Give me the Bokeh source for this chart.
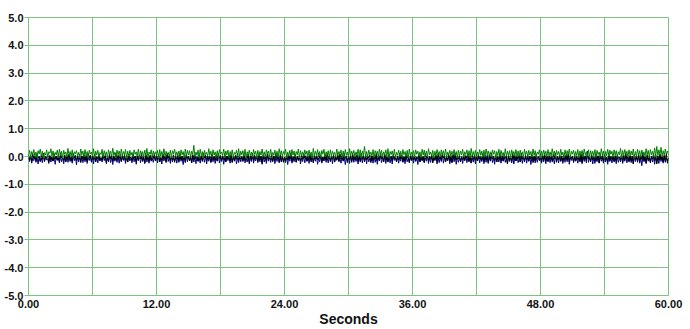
import numpy as np
from bokeh.plotting import figure
from bokeh.models import FixedTicker, NumeralTickFormatter, Range1d
from bokeh.embed import file_html
from bokeh.resources import INLINE

# time span (s) of the record
t_start, t_end = 0.0, 60.0

# series values in hundredths of a unit (0.1 s step)
green_vals = [
 4,22,-3,18,7,25,0,16,-5,21,
 9,27,2,19,-6,14,5,24,-2,17,
 11,28,1,20,-4,15,6,23,-1,26,
 3,19,-7,22,8,16,-2,29,4,18,
 0,24,-5,17,10,21,2,15,-3,27,
 6,20,-1,25,3,18,-6,23,9,16,
 1,28,-4,19,5,22,0,14,7,26,
 -2,21,4,17,-5,24,8,19,1,30,
 3,16,-3,23,6,20,-1,27,2,18,
 5,25,-7,19,0,22,4,15,-2,24,
 8,17,1,26,-4,21,6,18,-1,23,
 2,29,-3,16,7,24,0,20,5,17,
 4,22,-6,25,1,18,3,28,-2,19,
 7,15,0,23,-5,21,9,26,2,17,
 3,20,-2,24,6,18,-4,27,1,22,
 5,21,-1,19,8,40,0,16,4,23,
 -3,26,2,18,-6,22,7,15,1,28,
 4,19,-2,24,5,17,0,21,-4,25,
 9,16,3,27,-1,20,6,23,-5,18,
 2,24,-3,15,8,22,1,28,-2,19,
 6,21,0,26,-6,17,4,23,3,16,
 -1,25,7,19,-4,22,2,18,5,27,
 0,17,-2,24,9,20,-5,26,3,15,
 4,23,1,19,-3,28,6,21,-1,18,
 8,26,-4,16,2,22,0,25,5,20,
 -2,18,6,27,-5,21,3,17,1,24,
 7,20,-1,23,4,16,-6,29,2,19,
 3,25,0,18,-3,22,8,26,-2,17,
 5,21,-4,24,1,19,6,15,-1,27,
 2,18,9,23,-5,20,0,25,4,16,
 -3,28,3,19,7,22,-2,17,5,26,
 1,24,-6,20,4,36,0,18,-1,23,
 6,16,2,25,-4,21,8,19,-2,27,
 3,22,-1,17,5,24,0,28,-5,18,
 7,20,1,26,-3,15,4,23,2,19,
 -2,25,6,18,0,22,-6,27,3,16,
 4,21,-1,24,8,19,1,17,-4,26,
 5,23,0,20,-2,28,6,16,3,22,
 -5,19,2,25,7,18,-1,24,4,21,
 1,27,-3,16,5,22,0,19,8,25,
 3,18,-4,23,2,20,6,26,-1,17,
 7,24,0,21,-5,29,3,18,1,22,
 -2,16,5,25,4,19,-3,23,0,27,
 6,20,2,17,-1,24,8,21,-4,18,
 3,26,0,22,5,15,-2,28,1,19,
 4,21,-6,24,7,18,2,25,-1,20,
 0,23,3,17,-3,26,6,19,1,22,
 5,18,-2,27,4,21,0,16,8,24,
 -4,20,2,23,6,19,-1,25,3,17,
 1,28,5,20,-3,22,7,18,0,26,
 4,16,-5,24,2,21,6,27,-2,19,
 8,23,0,18,3,25,-4,20,5,22,
 -1,27,6,17,1,24,-3,21,4,19,
 2,25,-2,22,7,16,0,28,5,20,
 -6,18,3,26,1,23,8,19,-2,24,
 4,21,0,17,6,29,-3,22,2,25,
 7,19,-1,24,3,20,5,27,-4,18,
 1,26,4,21,-2,23,8,17,0,28,
 5,22,-3,25,6,19,2,31,-1,36,
 3,24,7,33,0,21,4,27,9,20,
 6]

blue_vals = [
 -4,-18,2,-24,-7,-15,0,-21,-3,-27,
 1,-16,-6,-22,3,-19,-2,-13,-8,-25,
 0,-20,-5,-17,4,-28,-1,-14,-6,-23,
 2,-19,-4,-26,-1,-16,5,-21,-3,-18,
 -7,-24,1,-15,-2,-30,3,-20,-5,-17,
 0,-22,-3,-19,4,-25,-6,-14,1,-21,
 -2,-27,2,-18,-4,-23,0,-16,-7,-20,
 3,-15,-1,-26,-5,-19,2,-22,-3,-29,
 1,-17,-6,-21,0,-24,4,-18,-2,-14,
 -4,-25,3,-20,-1,-16,-7,-23,2,-19,
 0,-28,-3,-15,5,-22,-2,-18,-5,-26,
 2,-20,-4,-24,1,-17,-6,-21,0,-14,
 -1,-23,3,-19,-5,-27,2,-16,-3,-22,
 4,-18,-2,-25,0,-20,-6,-15,1,-24,
 -3,-21,2,-17,-4,-29,0,-22,5,-19,
 -1,-16,-5,-23,3,-20,-2,-26,0,-18,
 -6,-24,1,-14,-3,-21,4,-27,-1,-17,
 2,-22,-4,-19,0,-25,-7,-16,3,-23,
 -2,-18,1,-28,-5,-20,2,-15,-1,-24,
 5,-21,-3,-17,0,-26,-4,-22,1,-19,
 -2,-15,3,-23,-6,-20,0,-27,-1,-18,
 4,-24,-3,-16,1,-22,-5,-19,2,-28,
 -1,-20,-4,-25,3,-17,0,-21,-6,-14,
 2,-26,-2,-18,5,-23,-3,-20,0,-16,
 -5,-22,1,-29,-1,-17,4,-24,-4,-19,
 0,-21,-2,-15,3,-27,-6,-18,1,-23,
 -3,-16,2,-25,-1,-20,5,-22,-4,-17,
 1,-28,-5,-19,0,-24,-2,-15,3,-21,
 -4,-23,2,-18,-1,-26,4,-20,-3,-14,
 0,-19,-6,-24,2,-17,-2,-29,1,-22,
 -1,-25,3,-16,-4,-21,0,-18,-5,-27,
 4,-20,-2,-23,1,-15,-3,-26,2,-19,
 -6,-17,0,-24,3,-21,-1,-28,-4,-16,
 2,-22,-3,-19,5,-25,0,-18,-2,-23,
 -1,-27,4,-14,-5,-20,1,-24,-3,-17,
 3,-21,-2,-26,0,-19,-6,-22,2,-15,
 -4,-24,1,-18,-1,-29,3,-20,-2,-16,
 0,-23,-5,-17,4,-25,-3,-21,1,-19,
 -2,-15,2,-27,-4,-22,0,-18,5,-24,
 -1,-20,-6,-16,1,-26,-3,-23,3,-19,
 2,-28,-1,-21,-5,-17,0,-25,-2,-14,
 4,-22,-3,-19,1,-24,-6,-20,2,-27,
 -1,-16,3,-23,-4,-18,0,-26,-3,-21,
 5,-25,-2,-17,1,-22,-5,-28,2,-19,
 -3,-20,0,-24,4,-15,-1,-21,-6,-26,
 1,-18,-4,-23,2,-27,-2,-16,3,-22,
 -5,-19,0,-25,-1,-20,4,-24,-3,-17,
 2,-29,-2,-18,1,-23,-4,-21,0,-15,
 -6,-24,3,-19,-1,-26,2,-17,-3,-22,
 0,-20,-5,-27,4,-16,-2,-23,1,-18,
 -4,-25,2,-21,-1,-19,5,-28,-3,-14,
 1,-22,-3,-17,-6,-24,0,-20,3,-26,
 -2,-18,2,-23,20,-21,-4,-16,1,-27,
 -1,-25,-5,-19,3,-22,0,-17,-3,-24,
 4,-20,-2,-28,1,-18,-6,-23,2,-15,
 -3,-26,0,-21,-4,-19,3,-25,-1,-17,
 2,-23,-5,-20,0,-22,-2,-27,4,-18,
 -1,-21,3,-24,-4,-33,1,-19,-3,-26,
 0,-17,-6,-23,2,-20,-2,-28,1,-22,
 -4,-25,3,-18,-1,-24,0,-21,-5,-16,
 -8]

black_vals = [
 6,-12,3,-17,9,-8,1,-14,11,-6,
 -2,-19,5,-10,12,-15,0,-7,8,-21,
 4,-11,-1,-16,10,-9,2,-13,7,-18,
 13,-5,-3,-14,6,-20,1,-8,9,-12,
 0,-17,11,-6,4,-15,-2,-10,8,-22,
 3,-9,7,-13,-1,-18,12,-7,5,-16,
 2,-11,9,-19,0,-8,6,-14,-3,-12,
 10,-6,4,-21,1,-15,8,-9,3,-17,
 -1,-10,12,-13,5,-7,0,-18,7,-11,
 4,-16,2,-20,9,-8,-2,-14,11,-6,
 1,-19,6,-12,3,-9,13,-15,0,-23,
 8,-10,-1,-17,5,-13,2,-7,10,-16,
 3,-11,7,-20,-3,-14,9,-8,1,-18,
 12,-6,4,-15,0,-12,6,-21,-2,-9,
 5,-17,11,-10,2,-13,-1,-19,8,-7,
 0,-14,3,-22,7,-11,5,-8,-3,-16,
 9,-12,1,-18,13,-6,4,-15,2,-10,
 -2,-20,8,-9,0,-14,6,-17,11,-7,
 3,-13,-1,-11,10,-19,2,-8,5,-16,
 7,-21,0,-12,4,-10,12,-15,-3,-9,
 1,-18,6,-13,-2,-7,9,-20,3,-11,
 11,-14,4,-8,0,-17,7,-12,-1,-24,
 5,-9,2,-16,13,-10,-3,-13,8,-19,
 0,-11,10,-7,3,-18,6,-14,1,-21,
 -2,-15,7,-12,4,-9,12,-17,0,-8,
 9,-20,2,-13,-1,-16,5,-10,11,-6,
 3,-18,-3,-11,8,-14,0,-22,6,-9,
 1,-12,13,-7,4,-19,-2,-15,7,-13,
 10,-8,2,-17,0,-10,5,-20,-1,-12,
 6,-16,9,-9,3,-14,12,-7,-3,-18,
 0,-11,4,-21,8,-13,1,-8,6,-17,
 -2,-15,11,-10,3,-19,7,-12,0,-6,
 5,-22,2,-14,-1,-9,10,-16,4,-11,
 13,-8,0,-18,6,-13,-3,-20,9,-7,
 1,-15,7,-10,3,-17,-2,-12,12,-9,
 4,-19,0,-14,8,-6,5,-21,-1,-11,
 10,-13,2,-16,-3,-8,6,-18,3,-12,
 0,-20,11,-7,4,-15,1,-10,7,-23,
 -2,-12,5,-17,9,-9,0,-14,13,-6,
 3,-18,-1,-11,6,-16,2,-20,8,-8,
 12,-13,0,-9,4,-19,-3,-12,7,-15,
 1,-7,10,-17,2,-22,5,-10,-1,-14,
 8,-16,3,-8,0,-13,11,-18,4,-11,
 -2,-21,6,-12,13,-9,1,-15,5,-19,
 0,-10,9,-14,-3,-17,7,-7,2,-25,
 4,-13,-1,-18,11,-11,3,-16,0,-8,
 6,-20,12,-10,2,-14,-2,-12,8,-17,
 1,-9,5,-22,0,-15,9,-7,-3,-13,
 10,-18,4,-11,7,-16,1,-19,3,-10,
 -1,-14,8,-8,13,-21,0,-12,6,-15,
 2,-17,-3,-9,5,-13,11,-18,4,-7,
 0,-20,7,-14,1,-11,-2,-16,9,-22,
 12,-10,3,-15,6,-8,0,-19,5,-12,
 -1,-16,10,-13,2,-24,8,-9,4,-17,
 7,-11,-3,-18,13,-14,1,-10,0,-20,
 3,-15,6,-7,-2,-12,9,-21,5,-13,
 11,-9,0,-17,4,-16,2,-26,7,-11,
 -1,-14,8,-19,3,-10,12,-15,0,-22,
 6,-12,1,-18,-3,-8,10,-16,4,-27,
 2,-13,9,-11,0,-20,5,-15,11,-24,
 -4]

x_label_ticks = [0, 12, 24, 36, 48, 60]
x_grid_ticks = [0, 6, 12, 18, 24, 30, 36, 42, 48, 54, 60]
y_ticks = [-5, -4, -3, -2, -1, 0, 1, 2, 3, 4, 5]
x_title = "Seconds"

green = np.array(green_vals) / 100.0
blue = np.array(blue_vals) / 100.0
black = np.array(black_vals) / 100.0
t_green = np.linspace(t_start, t_end, len(green))
t_blue = np.linspace(t_start, t_end, len(blue))
t_black = np.linspace(t_start, t_end, len(black))

GRID = "#80c080"
FONT = "Liberation Sans"

p = figure(width=690, height=329, output_backend="svg", toolbar_location=None,
           x_range=Range1d(0, 60), y_range=Range1d(-5, 5),
           min_border_left=28, min_border_right=22, min_border_top=17, min_border_bottom=34)
p.background_fill_color = "white"
p.border_fill_color = "white"
p.outline_line_color = GRID
p.outline_line_width = 1

p.xgrid.ticker = FixedTicker(ticks=x_grid_ticks)
p.ygrid.ticker = FixedTicker(ticks=y_ticks)
for g in (p.xgrid, p.ygrid):
    g.grid_line_color = GRID
    g.grid_line_width = 1

p.xaxis.ticker = FixedTicker(ticks=x_label_ticks)
p.xaxis.formatter = NumeralTickFormatter(format="0.00")
p.xaxis.axis_label = x_title
p.xaxis.axis_label_text_font = FONT
p.xaxis.axis_label_text_font_style = "bold"
p.xaxis.axis_label_text_font_size = "14px"
p.xaxis.axis_label_text_color = "#111111"
p.xaxis.axis_label_standoff = 0
p.xaxis.major_tick_out = 0
p.xaxis.major_tick_in = 0
p.xaxis.minor_tick_line_color = None
p.xaxis.axis_line_color = None
p.xaxis.major_label_standoff = 4

p.yaxis.ticker = FixedTicker(ticks=y_ticks)
p.yaxis.formatter = NumeralTickFormatter(format="0.0")
p.yaxis.major_tick_out = 4
p.yaxis.major_tick_in = 0
p.yaxis.major_tick_line_color = GRID
p.yaxis.minor_tick_line_color = None
p.yaxis.axis_line_color = None
p.yaxis.major_label_standoff = 1

for ax in (p.xaxis, p.yaxis):
    ax.major_label_text_font = FONT
    ax.major_label_text_font_style = "bold"
    ax.major_label_text_font_size = "11px"
    ax.major_label_text_color = "#111111"

p.line(t_blue, blue, line_color="#00008b", line_width=1)
p.line(t_black, black, line_color="#000000", line_width=1)
p.line(t_green, green, line_color="#008000", line_width=1)

open("out.html", "w").write(file_html(p, INLINE))
